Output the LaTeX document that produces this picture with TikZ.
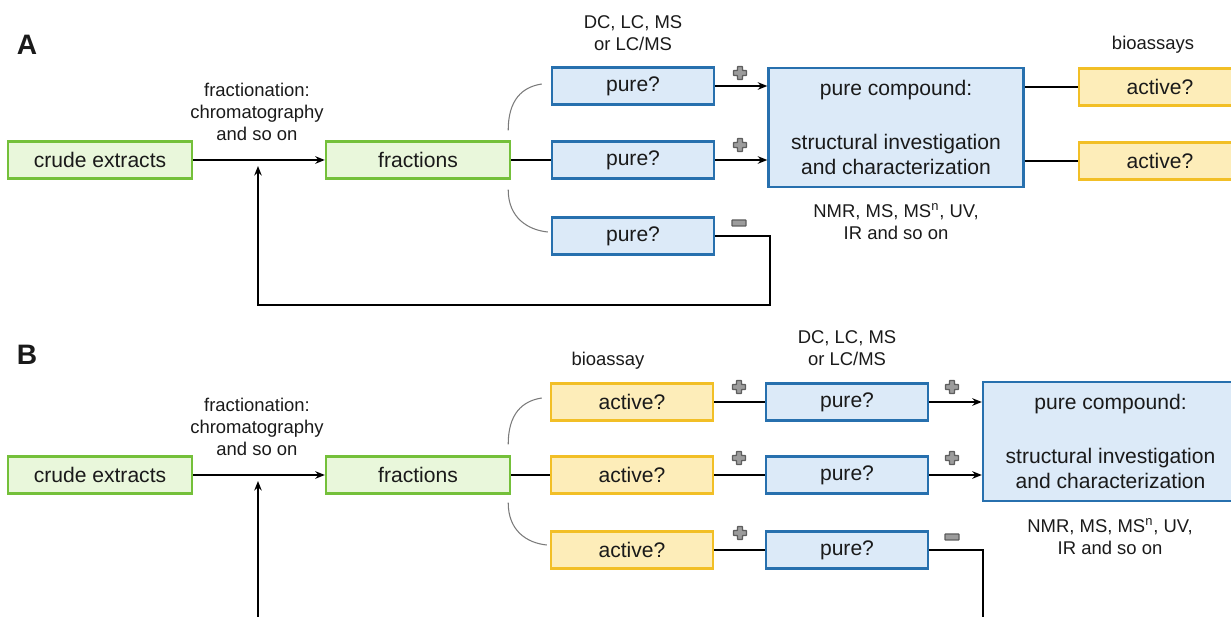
\documentclass[tikz,border=0pt]{standalone}
\usepackage{fontspec}
\setmainfont{Liberation Sans}
\usetikzlibrary{arrows.meta,calc}
\definecolor{extline}{HTML}{74C03A}
\definecolor{extfill}{HTML}{E9F7DB}
\definecolor{pureline}{HTML}{2770AE}
\definecolor{purefill}{HTML}{DCEAF8}
\definecolor{actline}{HTML}{F2BF26}
\definecolor{actfill}{HTML}{FDEDB9}
\definecolor{signline}{HTML}{5E5E5E}
\definecolor{signfill}{HTML}{9C9C9C}
\definecolor{bracketgray}{HTML}{7A7A7A}
\definecolor{inkblack}{HTML}{1A1A1A}

\begin{document}
\begin{tikzpicture}[
    x=0.02cm, y=-0.02cm,
    font=\fontsize{12}{14.2}\selectfont,
    >={Stealth[length=1.9mm, width=1.5mm]},
    box/.style={draw, line width=1.4pt, inner sep=1pt, minimum height=7.4mm, align=center, text=inkblack},
    extract/.style={box, draw=extline, fill=extfill, minimum width=36.8mm},
    purebox/.style={box, draw=pureline, fill=purefill, minimum width=32.4mm},
    activebox/.style={box, draw=actline, fill=actfill, minimum width=32.4mm},
    compound/.style={box, draw=pureline, fill=purefill, minimum width=51mm, minimum height=23.8mm},
    note/.style={font=\fontsize{10.5}{12.6}\selectfont, align=center, text=inkblack},
    paneltag/.style={font=\fontsize{16}{16}\selectfont\bfseries, text=inkblack},
    flow/.style={draw=black, line width=1pt},
    bracket/.style={draw=bracketgray, line width=0.6pt},
    posmark/.pic={
        \draw[draw=signline, fill=signfill, line width=0.8pt, rounded corners=0.4pt]
            (-2.5,-6.5) -- (2.5,-6.5) -- (2.5,-2.5) -- (6.5,-2.5) -- (6.5,2.5) -- (2.5,2.5)
            -- (2.5,6.5) -- (-2.5,6.5) -- (-2.5,2.5) -- (-6.5,2.5) -- (-6.5,-2.5) -- (-2.5,-2.5) -- cycle;
    },
    negmark/.pic={
        \draw[draw=signline, fill=signfill, line width=0.8pt, rounded corners=0.4pt]
            (-7,-3) rectangle (7,3);
    },
]
    \useasboundingbox (0,0) rectangle (1231,617);

    % =====================================================================
    % (A) purity check first, bioassay afterwards
    % =====================================================================
    \node[paneltag] (tagA) at (27,45) {A};

    \node[extract] (crudeA) at (100,160) {crude extracts};
    \node[extract] (fracA) at (418,160) {fractions};
    \node[note] (stepA) at (257,112) {fractionation:\\chromatography\\and so on};

    % purity checks
    \node[note] (methA) at (633,33) {DC, LC, MS\\or LC/MS};
    \node[purebox] (pureA1) at (633,86) {pure?};
    \node[purebox] (pureA2) at (633,160) {pure?};
    \node[purebox] (pureA3) at (633,236) {pure?};

    % structure elucidation
    \node[compound] (cmpA) at (896,127.5) {pure compound:\\[17pt]structural investigation\\and characterization};
    \node[note] (specA) at (896,222) {NMR, MS, MS\textsuperscript{n}, UV,\\IR and so on};

    % bioassays
    \node[note] (bioA) at (1153,45) {bioassays};
    \node[activebox] (actA1) at (1160,87) {active?};
    \node[activebox] (actA2) at (1160,161) {active?};

    % connectors
    \draw[flow, ->] (crudeA.east) -- (fracA.west);
    \draw[flow] (fracA.east) -- (pureA2.west);
    \draw[bracket] ($(fracA.north east)+(-3,-10)$) .. controls +(0,-30) and +(-20,3) .. ($(pureA1.west)+(-9,-2)$);
    \draw[bracket] ($(fracA.south east)+(-3,10)$) .. controls +(0,28) and +(-20,-2) .. ($(pureA3.west)+(-3,-4)$);

    \draw[flow, ->] (pureA1.east) -- (pureA1.east -| cmpA.west);
    \draw[flow, ->] (pureA2.east) -- (pureA2.east -| cmpA.west);
    \draw[flow] (actA1.west -| cmpA.east) -- (actA1.west);
    \draw[flow] (actA2.west -| cmpA.east) -- (actA2.west);

    % not pure: back to fractionation
    \coordinate (retA) at (770,305);
    \coordinate (feedA) at (258,166);
    \draw[flow, ->] (pureA3.east) -| (retA) -| (feedA);

    \pic at (740,73) {posmark};
    \pic at (740,145) {posmark};
    \pic at (739,223) {negmark};

    % =====================================================================
    % (B) bioassay first, purity check afterwards
    % =====================================================================
    \node[paneltag] (tagB) at (27,355) {B};

    \node[extract] (crudeB) at (100,475) {crude extracts};
    \node[extract] (fracB) at (418,475) {fractions};
    \node[note] (stepB) at (257,427) {fractionation:\\chromatography\\and so on};

    % bioassays
    \node[note] (bioB) at (608,361) {bioassay};
    \node[activebox] (actB1) at (632,402) {active?};
    \node[activebox] (actB2) at (632,475) {active?};
    \node[activebox] (actB3) at (632,550) {active?};

    % purity checks
    \node[note] (methB) at (847,348) {DC, LC, MS\\or LC/MS};
    \node[purebox] (pureB1) at (847,402) {pure?};
    \node[purebox] (pureB2) at (847,475) {pure?};
    \node[purebox] (pureB3) at (847,550) {pure?};

    % structure elucidation
    \node[compound] (cmpB) at (1110.5,441.5) {pure compound:\\[17pt]structural investigation\\and characterization};
    \node[note] (specB) at (1110,537) {NMR, MS, MS\textsuperscript{n}, UV,\\IR and so on};

    % connectors
    \draw[flow, ->] (crudeB.east) -- (fracB.west);
    \draw[flow] (fracB.east) -- (actB2.west);
    \draw[bracket] ($(fracB.north east)+(-3,-11)$) .. controls +(0,-30) and +(-20,3) .. ($(actB1.west)+(-8,-4)$);
    \draw[bracket] ($(fracB.south east)+(-3,8)$) .. controls +(0,28) and +(-20,-2) .. ($(actB3.west)+(-3,-5)$);

    \draw[flow] (actB1.east) -- (pureB1.west);
    \draw[flow] (actB2.east) -- (pureB2.west);
    \draw[flow] (actB3.east) -- (pureB3.west);
    \draw[flow, ->] (pureB1.east) -- (pureB1.east -| cmpB.west);
    \draw[flow, ->] (pureB2.east) -- (pureB2.east -| cmpB.west);

    % not pure: back to fractionation
    \coordinate (retB) at (983,660);
    \coordinate (feedB) at (258,481);
    \draw[flow, ->] (pureB3.east) -| (retB) -| (feedB);

    \pic at (739,387) {posmark};
    \pic at (739,458) {posmark};
    \pic at (740,533) {posmark};
    \pic at (952,387) {posmark};
    \pic at (952,458) {posmark};
    \pic at (952,537) {negmark};

\end{tikzpicture}
\end{document}
